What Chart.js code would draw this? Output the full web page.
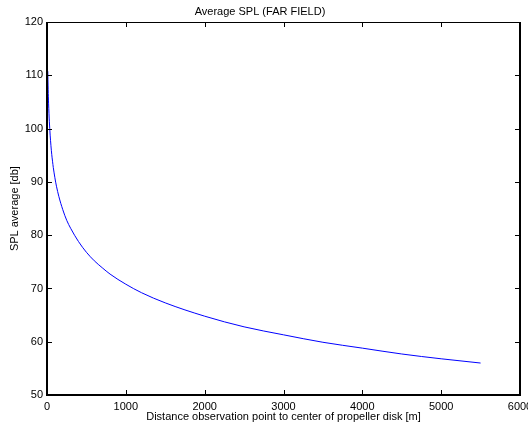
<!DOCTYPE html>
<html>
<head>
<meta charset="utf-8">
<script src="https://cdn.jsdelivr.net/npm/chart.js@4"></script>
<style>
html,body{margin:0;padding:0;background:#fff;}
#wrap{width:528px;height:423px;}
</style>
</head>
<body>
<div id="wrap"><canvas id="c" width="528" height="423"></canvas></div>
<script>
const distances = [10, 12, 15, 20, 25, 30, 40, 50, 60, 70, 80, 100, 120, 150, 200, 250, 300, 400, 500, 600, 700, 800, 1000, 1200, 1500, 2000, 2500, 3000, 3500, 4000, 4500, 5000, 5500];
const splValues = [110.8, 109.2, 107.3, 104.8, 102.8, 101.3, 98.8, 96.8, 95.2, 93.9, 92.7, 90.8, 89.2, 87.3, 84.8, 82.8, 81.3, 78.8, 76.8, 75.2, 73.9, 72.7, 70.8, 69.2, 67.3, 64.8, 62.8, 61.3, 59.9, 58.8, 57.7, 56.8, 56.0];
const xTicks = [0, 1000, 2000, 3000, 4000, 5000, 6000];
const yTicks = [50, 60, 70, 80, 90, 100, 110, 120];

const FONT = 'Liberation Sans, Arial, Helvetica, sans-serif';

const boxPlugin = {
  id: 'matlabBox',
  afterDraw(chart) {
    const ctx = chart.ctx;
    const a = chart.chartArea;
    const xs = chart.scales.x, ys = chart.scales.y;
    const L = Math.round(a.left), R = Math.round(a.right), T = Math.round(a.top), B = Math.round(a.bottom);
    ctx.save();
    ctx.strokeStyle = '#000';
    ctx.lineWidth = 1;
    ctx.beginPath();
    ctx.moveTo(L, T + 0.5); ctx.lineTo(R, T + 0.5);
    ctx.stroke();
    ctx.lineWidth = 2;
    ctx.beginPath();
    ctx.moveTo(L, T); ctx.lineTo(L, B); ctx.lineTo(R, B); ctx.lineTo(R, T);
    ctx.stroke();
    ctx.lineWidth = 1;
    const tl = 5;
    ctx.beginPath();
    xTicks.forEach(v => {
      const px = Math.round(xs.getPixelForValue(v)) + 0.5;
      ctx.moveTo(px, B); ctx.lineTo(px, B - tl);
      ctx.moveTo(px, T); ctx.lineTo(px, T + tl);
    });
    yTicks.forEach(v => {
      const py = Math.round(ys.getPixelForValue(v)) + 0.5;
      ctx.moveTo(L, py); ctx.lineTo(L + tl, py);
      ctx.moveTo(R, py); ctx.lineTo(R - tl, py);
    });
    ctx.stroke();
    ctx.restore();
  }
};

new Chart(document.getElementById('c'), {
  type: 'scatter',
  data: {
    datasets: [{
      data: distances.map((d, i) => ({x: d, y: splValues[i]})),
      showLine: true,
      borderColor: '#0000ff',
      borderWidth: 1,
      pointRadius: 0,
      cubicInterpolationMode: 'monotone',
      fill: false
    }]
  },
  options: {
    responsive: false,
    animation: false,
    devicePixelRatio: 1,
    layout: {padding: {left: 0, right: 8, top: 0, bottom: 0}},
    plugins: {
      legend: {display: false},
      tooltip: {enabled: false},
      title: {
        display: true,
        text: 'Average SPL (FAR FIELD)',
        color: '#000',
        font: {family: FONT, size: 11, weight: 'normal', lineHeight: 1.2},
        padding: {top: 5, bottom: 4}
      }
    },
    scales: {
      x: {
        type: 'linear',
        min: 0, max: 6000,
        afterBuildTicks: s => { s.ticks = xTicks.map(v => ({value: v})); },
        afterFit: s => { s.height = 28; s.paddingRight = 0; s.paddingLeft = 0; },
        grid: {display: false, drawTicks: false},
        border: {display: false},
        ticks: {color: '#000', padding: 5, maxRotation: 0, autoSkip: false, font: {family: FONT, size: 11}, callback: v => String(v)},
        title: {display: true, text: 'Distance observation point to center of propeller disk [m]', color: '#000', font: {family: FONT, size: 11, lineHeight: 1}, padding: {top: 0, bottom: 0.5}}
      },
      y: {
        type: 'linear',
        min: 50, max: 120,
        afterBuildTicks: s => { s.ticks = yTicks.map(v => ({value: v})); },
        afterFit: s => { s.width = 47; },
        grid: {display: false, drawTicks: false},
        border: {display: false},
        ticks: {color: '#000', padding: 4, autoSkip: false, font: {family: FONT, size: 11}, callback: v => String(v)},
        title: {display: true, text: 'SPL average [db]', color: '#000', font: {family: FONT, size: 11, lineHeight: 1}, padding: {top: 9.5, bottom: 0}}
      }
    }
  },
  plugins: [boxPlugin]
});
</script>
</body>
</html>
